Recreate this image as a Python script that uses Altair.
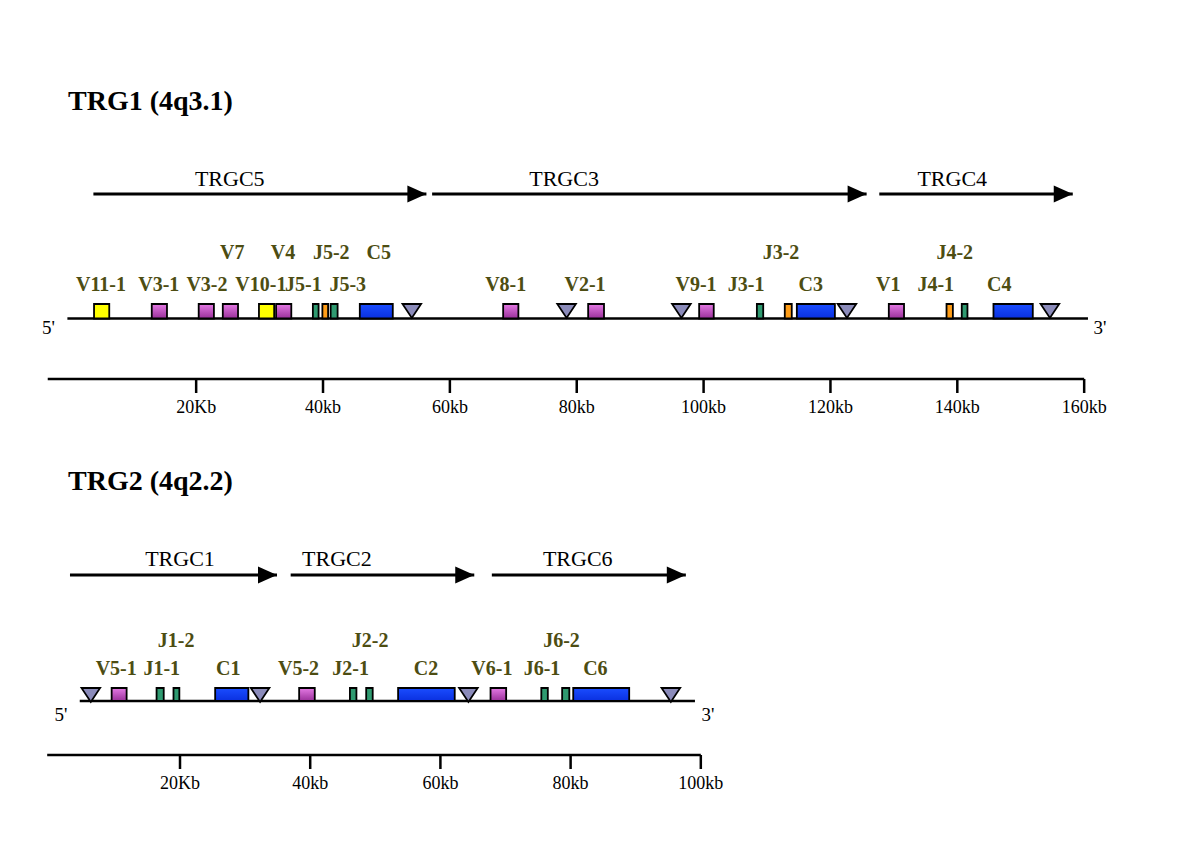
import altair as alt
import pandas as pd

SERIF = "Liberation Serif"
OLIVE = "#4d4d12"

# ---------------- TRG1 (4q3.1) : positions in kb ----------------
t1_title = "TRG1 (4q3.1)"
t1_names = ["V11-1", "V3-1", "V3-2", "V7", "V10-1", "V4", "J5-1", "J5-2", "J5-3", "C5",
            "V8-1", "V2-1", "V9-1", "J3-1", "J3-2", "C3", "V1", "J4-1", "J4-2", "C4"]
t1_kind = ["Vy", "V", "V", "V", "Vy", "V", "Jg", "Jo", "Jg", "C",
           "V", "V", "V", "Jg", "Jo", "C", "V", "Jo", "Jg", "C"]
t1_start = [3.9, 13.0, 20.4, 24.2, 29.9, 32.6, 38.4, 39.9, 41.2, 45.8,
            68.4, 81.8, 99.3, 108.4, 112.8, 114.7, 129.2, 138.3, 140.7, 145.7]
t1_end = [6.3, 15.4, 22.8, 26.6, 32.3, 35.0, 39.3, 40.8, 42.3, 51.0,
          70.8, 84.3, 101.6, 109.4, 113.9, 120.7, 131.6, 139.3, 141.6, 151.9]
t1_label_x = [5.0, 14.1, 21.7, 25.7, 30.2, 33.7, 36.9, 41.3, 43.9, 48.8,
              68.8, 81.3, 98.8, 106.7, 112.2, 116.9, 129.1, 136.6, 139.6, 146.6]
t1_label_row = [1, 1, 1, 2, 1, 2, 1, 2, 1, 2, 1, 1, 1, 1, 2, 1, 1, 1, 2, 1]
t1_pseudo = [54.0, 78.4, 96.5, 122.6, 154.6]
t1_clusters = ["TRGC5", "TRGC3", "TRGC4"]
t1_cl_start = [3.8, 57.2, 127.7]
t1_cl_end = [56.3, 125.7, 158.2]
t1_cl_label = [25.3, 78.0, 139.2]
t1_line = [-0.3, 160.6]
t1_ends = [-3.3, 162.5]
t1_axis = [-3.4, 160]
t1_ticks = [20, 40, 60, 80, 100, 120, 140, 160]
t1_tick_labels = ["20Kb", "40kb", "60kb", "80kb", "100kb", "120kb", "140kb", "160kb"]

# ---------------- TRG2 (4q2.2) : positions in kb ----------------
t2_title = "TRG2 (4q2.2)"
t2_names = ["V5-1", "J1-1", "J1-2", "C1", "V5-2", "J2-1", "J2-2", "C2", "V6-1", "J6-1", "J6-2", "C6"]
t2_kind = ["V", "Jg", "Jg", "C", "V", "Jg", "Jg", "C", "V", "Jg", "Jg", "C"]
t2_start = [9.5, 16.4, 19.0, 25.4, 38.3, 46.1, 48.6, 53.5, 67.7, 75.5, 78.7, 80.4]
t2_end = [11.8, 17.5, 19.9, 30.5, 40.7, 47.1, 49.6, 62.2, 70.1, 76.5, 79.8, 89.0]
t2_label_x = [10.2, 17.2, 19.4, 27.4, 38.2, 46.2, 49.2, 57.8, 67.9, 75.6, 78.6, 83.8]
t2_label_row = [1, 1, 2, 1, 1, 1, 2, 1, 1, 1, 2, 1]
t2_pseudo = [6.3, 32.3, 64.3, 95.4]
t2_clusters = ["TRGC1", "TRGC2", "TRGC6"]
t2_cl_start = [3.1, 37.0, 67.9]
t2_cl_end = [34.9, 65.2, 97.7]
t2_cl_label = [20.0, 44.1, 81.1]
t2_line = [4.6, 99.1]
t2_ends = [1.7, 101.1]
t2_axis = [-0.4, 100]
t2_ticks = [20, 40, 60, 80, 100]
t2_tick_labels = ["20Kb", "40kb", "60kb", "80kb", "100kb"]

KIND_FILL = {
    "Vy": "#ffff00",
    "V": alt.Gradient(gradient="linear", x1=0, y1=0, x2=0, y2=1,
                      stops=[alt.GradientStop(color="#e47ae4", offset=0),
                             alt.GradientStop(color="#9a309a", offset=1)]),
    "Jg": "#2f9a70",
    "Jo": "#ff9d17",
    "C": alt.Gradient(gradient="linear", x1=0, y1=0, x2=0, y2=1,
                      stops=[alt.GradientStop(color="#1a4dff", offset=0),
                             alt.GradientStop(color="#0a30e0", offset=1)]),
}
TRI = "M -1 0 L 1 0 L 0 1.5 Z"
HEAD = "M -2 -0.9 L 0 0 L -2 0.9 Z"
W = 1184


def panel(domain, H, title, title_y, names, kind, start, end, lx, lrow, pseudo,
          clusters, cl_start, cl_end, cl_label, line, ends, axis, ticks, tick_labels, y):
    xs = alt.Scale(domain=domain, nice=False, zero=False)

    def X(f):
        return alt.X(f, type="quantitative", scale=xs, axis=None)

    genes = pd.DataFrame({"name": names, "kind": kind, "start": start, "end": end,
                          "lx": lx, "row": lrow})
    layers = []
    # title
    layers.append(alt.Chart(pd.DataFrame({"t": [title]})).mark_text(
        font=SERIF, fontWeight="bold", fontSize=28, align="left", baseline="alphabetic",
        color="black").encode(x=alt.value(60), y=alt.value(title_y), text="t:N"))
    # cluster arrows
    cl = pd.DataFrame({"c": clusters, "s": cl_start, "e": cl_end, "l": cl_label})
    layers.append(alt.Chart(cl).mark_rule(color="black", strokeWidth=3).encode(
        x=X("s"), x2="e", y=alt.value(y["arrow"])))
    layers.append(alt.Chart(cl).mark_point(shape=HEAD, size=361, filled=True, color="black",
                                           opacity=1, strokeWidth=0).encode(
        x=X("e"), y=alt.value(y["arrow"])))
    layers.append(alt.Chart(cl).mark_text(font=SERIF, fontSize=22, color="black",
                                          baseline="alphabetic").encode(
        x=X("l"), y=alt.value(y["arrow_label"]), text="c:N"))
    # gene line
    gl = pd.DataFrame({"a": [line[0]], "b": [line[1]]})
    layers.append(alt.Chart(gl).mark_rule(color="black", strokeWidth=2.5).encode(
        x=X("a"), x2="b", y=alt.value(y["gene"])))
    en = pd.DataFrame({"x": ends, "t": ["5'", "3'"]})
    layers.append(alt.Chart(en).mark_text(font=SERIF, fontSize=19, color="black",
                                          baseline="alphabetic").encode(
        x=X("x"), y=alt.value(y["ends"]), text="t:N"))
    # gene boxes
    for k, fill in KIND_FILL.items():
        sub = genes[genes["kind"] == k]
        if len(sub) == 0:
            continue
        layers.append(alt.Chart(sub).mark_rect(fill=fill, stroke="black", strokeWidth=1.8).encode(
            x=X("start"), x2="end", y=alt.value(y["box_top"]), y2=alt.value(y["gene"])))
    # pseudogene triangles
    ps = pd.DataFrame({"p": pseudo})
    layers.append(alt.Chart(ps).mark_point(shape=TRI, size=346, filled=True, fill="#8b8bba",
                                           stroke="black", strokeWidth=1.8, opacity=1).encode(
        x=X("p"), y=alt.value(y["box_top"])))
    # gene labels
    for r, key in [(1, "row1"), (2, "row2")]:
        sub = genes[genes["row"] == r]
        layers.append(alt.Chart(sub).mark_text(font=SERIF, fontWeight="bold", fontSize=20,
                                               color=OLIVE, baseline="alphabetic").encode(
            x=X("lx"), y=alt.value(y[key]), text="name:N"))
    # scale axis
    ax = pd.DataFrame({"a": [axis[0]], "b": [axis[1]]})
    layers.append(alt.Chart(ax).mark_rule(color="black", strokeWidth=2.5).encode(
        x=X("a"), x2="b", y=alt.value(y["axis"])))
    tk = pd.DataFrame({"v": ticks, "t": tick_labels})
    layers.append(alt.Chart(tk).mark_rule(color="black", strokeWidth=2.5).encode(
        x=X("v"), y=alt.value(y["axis"]), y2=alt.value(y["axis"] + 14)))
    layers.append(alt.Chart(tk).mark_text(font=SERIF, fontSize=18, color="black",
                                          baseline="alphabetic").encode(
        x=X("v"), y=alt.value(y["axis"] + 34), text="t:N"))
    return alt.layer(*layers).properties(width=W, height=H)


p1 = panel([-9.664, 177.0], 430, t1_title, 102, t1_names, t1_kind, t1_start, t1_end,
           t1_label_x, t1_label_row, t1_pseudo, t1_clusters, t1_cl_start, t1_cl_end,
           t1_cl_label, t1_line, t1_ends, t1_axis, t1_ticks, t1_tick_labels,
           {"arrow": 186, "arrow_label": 178, "gene": 310.5, "box_top": 296, "ends": 326,
            "row1": 282.7, "row2": 251.3, "axis": 371})
p2 = panel([-6.421, 175.45], 415, t2_title, 52, t2_names, t2_kind, t2_start, t2_end,
           t2_label_x, t2_label_row, t2_pseudo, t2_clusters, t2_cl_start, t2_cl_end,
           t2_cl_label, t2_line, t2_ends, t2_axis, t2_ticks, t2_tick_labels,
           {"arrow": 137, "arrow_label": 128, "gene": 263, "box_top": 250, "ends": 283,
            "row1": 237, "row2": 209.3, "axis": 317})

chart = alt.vconcat(p1, p2, spacing=0).properties(padding=0, background="white").configure_view(
    stroke=None)
chart.save("out.html", embed_options={"renderer": "svg", "actions": False})
